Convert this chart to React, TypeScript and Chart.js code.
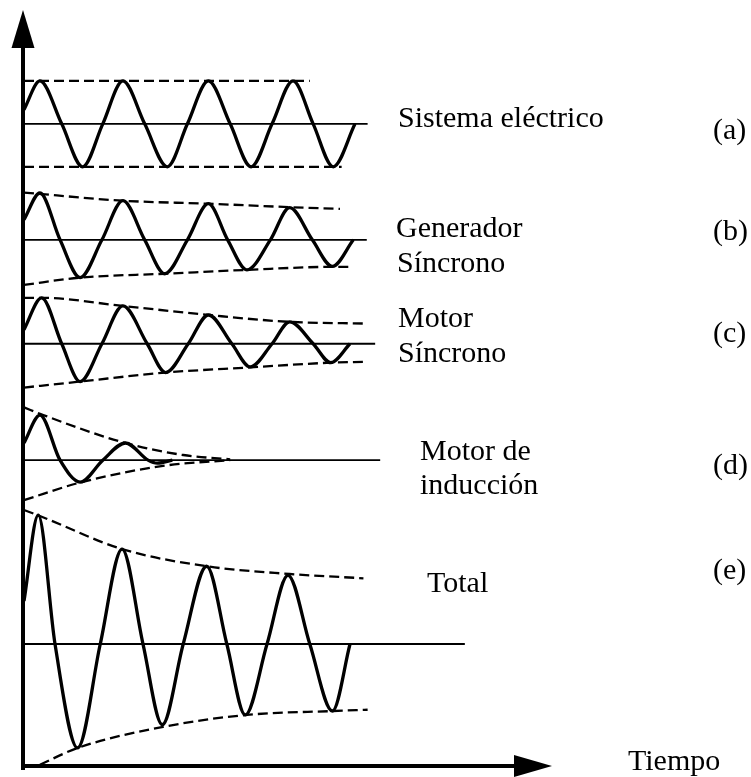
import React, { useEffect, useRef } from "react";
import { Chart, registerables } from "chart.js";

Chart.register(...registerables);

// ---- data (time in cycles, values in amplitude units relative to each row's baseline) ----
const rowLetters = ["(a)", "(b)", "(c)", "(d)", "(e)"];
const rowOffsets = [14.95, 12.25, 9.83, 7.12, 2.84];
const baselineEnds = [4.1, 4.09, 4.19, 4.25, 5.26];

// (a) Sistema eléctrico
const waveTimesA = [0, 0.19, 0.45, 0.7, 0.94, 1.18, 1.44, 1.71, 1.95, 2.2, 2.46, 2.71, 2.96, 3.21, 3.45, 3.69, 3.95];
const waveValuesA = [0.33, 1, 0, -1, 0, 1, 0, -1, 0, 1, 0, -1, 0, 1, 0, -1, 0];
const upperTimesA = [0, 3.41];
const upperValuesA = [1, 1];
const lowerTimesA = [0, 3.79];
const lowerValuesA = [-1, -1];

// (b) Generador Síncrono
const waveTimesB = [0, 0.19, 0.43, 0.67, 0.93, 1.18, 1.44, 1.68, 1.95, 2.2, 2.43, 2.66, 2.94, 3.17, 3.44, 3.68, 3.93];
const waveValuesB = [0.47, 1.09, 0, -0.88, 0, 0.91, 0, -0.79, 0, 0.84, 0, -0.7, 0, 0.75, 0, -0.62, 0];
const upperTimesB = [0, 1.18, 2.2, 3.17, 3.77];
const upperValuesB = [1.1, 0.91, 0.84, 0.76, 0.72];
const lowerTimesB = [0, 0.67, 1.68, 2.66, 3.68, 3.89];
const lowerValuesB = [-1.05, -0.88, -0.79, -0.7, -0.63, -0.63];

// (c) Motor Síncrono
const waveTimesC = [0, 0.21, 0.45, 0.67, 0.93, 1.18, 1.47, 1.69, 1.96, 2.2, 2.48, 2.7, 2.96, 3.17, 3.45, 3.66, 3.89];
const waveValuesC = [0.33, 1.07, 0, -0.88, 0, 0.88, 0, -0.67, 0, 0.67, 0, -0.54, 0, 0.51, 0, -0.44, 0];
const upperTimesC = [0, 0.21, 1.18, 2.2, 3.17, 4.07];
const upperValuesC = [1.07, 1.07, 0.88, 0.67, 0.51, 0.47];
const lowerTimesC = [0, 0.67, 1.69, 2.7, 3.66, 4.09];
const lowerValuesC = [-1.02, -0.88, -0.67, -0.55, -0.44, -0.42];

// (d) Motor de inducción
const waveTimesD = [0, 0.19, 0.43, 0.67, 0.94, 1.21, 1.48, 1.59, 1.77];
const waveValuesD = [0.4, 1.05, 0, -0.51, 0, 0.4, 0, -0.07, 0];
const upperTimesD = [0, 0.23, 1.21, 1.9, 2.46];
const upperValuesD = [1.23, 1.05, 0.4, 0.12, 0.02];
const lowerTimesD = [0, 0.69, 1.71, 2.46];
const lowerValuesD = [-0.93, -0.51, -0.12, 0];

// (e) Total
const waveTimesE = [0, 0.17, 0.37, 0.64, 0.91, 1.17, 1.42, 1.65, 1.9, 2.18, 2.42, 2.64, 2.9, 3.15, 3.41, 3.68, 3.89];
const waveValuesE = [1.0, 3.0, 0, -2.42, 0, 2.21, 0, -1.88, 0, 1.81, 0, -1.65, 0, 1.6, 0, -1.56, 0];
const upperTimesE = [0, 0.19, 1.17, 2.18, 3.17, 4.05];
const upperValuesE = [3.12, 2.98, 2.21, 1.81, 1.63, 1.53];
const lowerTimesE = [0.19, 0.64, 1.66, 2.66, 3.69, 4.1];
const lowerValuesE = [-2.81, -2.42, -1.93, -1.65, -1.56, -1.53];

const waveTimes = [waveTimesA, waveTimesB, waveTimesC, waveTimesD, waveTimesE];
const waveValues = [waveValuesA, waveValuesB, waveValuesC, waveValuesD, waveValuesE];
const upperTimes = [upperTimesA, upperTimesB, upperTimesC, upperTimesD, upperTimesE];
const upperValues = [upperValuesA, upperValuesB, upperValuesC, upperValuesD, upperValuesE];
const lowerTimes = [lowerTimesA, lowerTimesB, lowerTimesC, lowerTimesD, lowerTimesE];
const lowerValues = [lowerValuesA, lowerValuesB, lowerValuesC, lowerValuesD, lowerValuesE];

const X_MAX = 6.3;
const Y_MAX = 17.6;

const FONT = "30px 'Liberation Serif', 'Times New Roman', serif";

function toPoints(ts: number[], vs: number[], off: number) {
  return ts.map((t, i) => ({ x: t, y: off + vs[i] }));
}

const decorPlugin = {
  id: "decor",
  afterDatasetsDraw(chart: any) {
    const ctx = chart.ctx as CanvasRenderingContext2D;
    const { left, bottom } = chart.chartArea;
    const xs = chart.scales.x;
    ctx.save();
    ctx.fillStyle = "#000";
    ctx.strokeStyle = "#000";
    // vertical axis
    ctx.lineWidth = 4;
    ctx.beginPath();
    ctx.moveTo(left - 1, 40);
    ctx.lineTo(left - 1, bottom + 4);
    ctx.stroke();
    ctx.beginPath();
    ctx.moveTo(left - 1, 10);
    ctx.lineTo(left - 12.5, 48);
    ctx.lineTo(left + 10.5, 48);
    ctx.closePath();
    ctx.fill();
    // horizontal axis
    const tipX = xs.getPixelForValue(X_MAX);
    ctx.beginPath();
    ctx.moveTo(left - 3, bottom);
    ctx.lineTo(tipX - 30, bottom);
    ctx.stroke();
    ctx.beginPath();
    ctx.moveTo(tipX, bottom);
    ctx.lineTo(tipX - 38, bottom - 11);
    ctx.lineTo(tipX - 38, bottom + 11);
    ctx.closePath();
    ctx.fill();

    // labels
    ctx.fillStyle = "#000";
    ctx.font = FONT;
    ctx.textBaseline = "alphabetic";
    ctx.textAlign = "left";
    const texts: [string, number, number][] = [
      ["Sistema eléctrico", 398, 127],
      ["Generador", 396, 237],
      ["Síncrono", 397, 272],
      ["Motor", 398, 327],
      ["Síncrono", 398, 362],
      ["Motor de", 420, 460],
      ["inducción", 420, 494],
      ["Total", 427, 592],
      ["Tiempo", 628, 770],
    ];
    texts.forEach(([s, x, y]) => ctx.fillText(s, x, y));
    const letterY = [139, 240, 342, 474, 579];
    rowLetters.forEach((s, i) => ctx.fillText(s, 713, letterY[i]));
    ctx.restore();
  },
};

export default function App() {
  const ref = useRef<HTMLCanvasElement | null>(null);
  useEffect(() => {
    if (!ref.current) return;
    const datasets: any[] = [];
    rowOffsets.forEach((off, i) => {
      datasets.push({
        data: toPoints(waveTimes[i], waveValues[i], off),
        borderColor: "#000",
        borderWidth: 3.3,
        cubicInterpolationMode: "monotone",
        pointRadius: 0,
        order: 0,
      });
      datasets.push({
        data: toPoints(upperTimes[i], upperValues[i], off),
        borderColor: "#000",
        borderWidth: 2.3,
        borderDash: [10, 5],
        cubicInterpolationMode: "monotone",
        pointRadius: 0,
        order: 1,
      });
      datasets.push({
        data: toPoints(lowerTimes[i], lowerValues[i], off),
        borderColor: "#000",
        borderWidth: 2.3,
        borderDash: [10, 5],
        cubicInterpolationMode: "monotone",
        pointRadius: 0,
        order: 1,
      });
      datasets.push({
        data: [
          { x: 0, y: off },
          { x: baselineEnds[i], y: off },
        ],
        borderColor: "#000",
        borderWidth: 1.8,
        pointRadius: 0,
        order: 2,
      });
    });
    const chart = new Chart(ref.current, {
      type: "line",
      data: { datasets },
      options: {
        animation: false,
        responsive: false,
        maintainAspectRatio: false,
        devicePixelRatio: 1,
        layout: { padding: { left: 24, right: 199, top: 10, bottom: 11 } },
        plugins: { legend: { display: false }, tooltip: { enabled: false } },
        elements: { line: { fill: false } },
        datasets: { line: { clip: false } as any },
        scales: {
          x: { type: "linear", min: 0, max: X_MAX, display: false },
          y: { type: "linear", min: 0, max: Y_MAX, display: false },
        },
      } as any,
      plugins: [decorPlugin],
    });
    return () => chart.destroy();
  }, []);
  return (
    <div style={{ position: "fixed", left: 0, top: 0, width: 751, height: 777, background: "#fff" }}>
      <canvas ref={ref} width={751} height={777} style={{ display: "block" }} />
    </div>
  );
}
